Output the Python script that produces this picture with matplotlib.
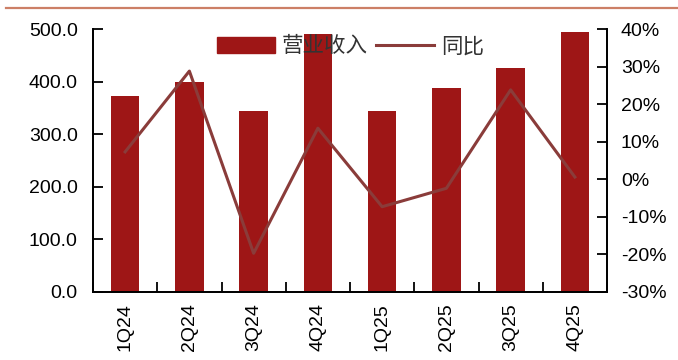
import matplotlib
matplotlib.use("Agg")
import matplotlib.pyplot as plt
from matplotlib.ticker import FixedLocator, FuncFormatter
from matplotlib.lines import Line2D
import numpy as np

categories = ["1Q24", "2Q24", "3Q24", "4Q24", "1Q25", "2Q25", "3Q25", "4Q25"]
revenue = [373, 400, 345, 490, 345, 388, 425, 494]
yoy_pct = [7.3, 28.8, -19.7, 13.6, -7.3, -2.4, 23.8, 0.6]
legend_labels = ["营业收入", "同比"]

plt.rcParams['font.family'] = ['Liberation Sans', 'Noto Sans CJK SC', 'DejaVu Sans']

bar_color = "#9E1616"
line_color = "#8A3C3A"

fig = plt.figure(figsize=(6.78, 3.6), dpi=100)
ax = fig.add_axes([93/678, 1-292/360, (607-93)/678, (292-29)/360])
ax2 = ax.twinx()

x = np.arange(len(categories))
bars = ax.bar(x, revenue, width=0.44, color=bar_color, zorder=2)
line, = ax2.plot(x, yoy_pct, color=line_color, lw=2.2, zorder=3)

ax.set_xlim(-0.5, len(categories) - 0.5)
ax.set_ylim(0, 500)
ax.set_yticks(np.arange(0, 501, 100))
ax.yaxis.set_major_formatter(FuncFormatter(lambda v, p: f"{v:.1f}"))
ax2.set_ylim(-30, 40)
ax2.set_yticks(np.arange(-30, 41, 10))
ax2.yaxis.set_major_formatter(FuncFormatter(lambda v, p: f"{int(round(v))}%"))

ax.set_xticks(x)
ax.set_xticklabels(categories, rotation=90)
ax.xaxis.set_minor_locator(FixedLocator(np.arange(-0.5, len(categories), 1.0)))
ax.tick_params(axis='x', which='major', length=0, pad=8, labelsize=14)
ax.tick_params(axis='x', which='minor', direction='in', length=7, width=1.3)
ax.tick_params(axis='y', direction='in', length=7, width=1.3, pad=11, labelsize=14)
ax2.tick_params(axis='y', direction='in', length=7, width=1.3, pad=10, labelsize=14)

for a in (ax, ax2):
    a.spines['top'].set_visible(False)
    for s in ('left', 'right', 'bottom'):
        a.spines[s].set_linewidth(1.3)
        a.spines[s].set_color('black')

handles = [plt.Rectangle((0, 0), 1, 1, color=bar_color),
           Line2D([0], [0], color=line_color, lw=2.2)]
leg = fig.legend(handles, legend_labels, ncol=2, frameon=False,
                 loc='center left', bbox_to_anchor=(217/678, 1-46.5/360),
                 borderpad=0, borderaxespad=0, handlelength=2.7, handleheight=0.8,
                 handletextpad=0.3, columnspacing=0.4,
                 prop={'family': ['Noto Sans CJK SC'], 'size': 15.5})
for t in leg.get_texts():
    t.set_color('#333333')

fig.add_artist(Line2D([6/678, 1.0], [1-8/360, 1-8/360], transform=fig.transFigure,
                      color="#CC7F66", lw=1.6))

fig.savefig("out.png", dpi=100)
